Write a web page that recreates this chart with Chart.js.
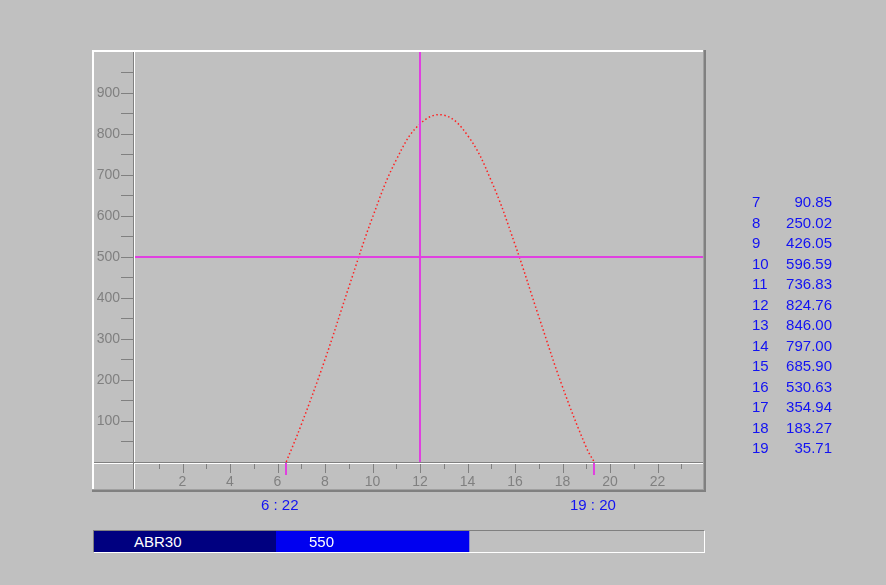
<!DOCTYPE html>
<html>
<head>
<meta charset="utf-8">
<script src="https://cdn.jsdelivr.net/npm/chart.js@4.4.1/dist/chart.umd.min.js"></script>
<style>
body { margin: 0; background: #c0c0c0; width: 886px; height: 585px; overflow: hidden; position: relative; font-family: "Liberation Sans", Arial, sans-serif; }
#main { position: absolute; left: 0; top: 0; }
.blue { position: absolute; color: #1212f2; font-size: 15px; white-space: nowrap; line-height: 20px; }
.row { position: absolute; left: 752px; width: 80px; height: 20px; }
.row .v { position: absolute; right: 0; }
#bar { position: absolute; left: 93px; top: 530px; width: 612px; height: 23px; box-sizing: border-box;
       border-top: 1px solid #808080; border-left: 1px solid #808080; border-bottom: 1px solid #fff; border-right: 1px solid #fff; }
#barLabel { position: absolute; left: 0; top: 0; width: 182px; height: 21px; background: #000080; }
#barChart { position: absolute; left: 182px; top: 0; }
.white { position: absolute; top: 0; color: #fff; font-size: 15px; line-height: 21px; }
</style>
</head>
<body>
<canvas id="main" width="886" height="585"></canvas>
<div id="table"></div>
<div id="rise" class="blue"></div>
<div id="set" class="blue"></div>
<div id="bar">
  <div id="barLabel"></div>
  <canvas id="barChart" width="428" height="21"></canvas>
  <div id="barName" class="white" style="left:40px"></div>
  <div id="barText" class="white" style="left:215px"></div>
</div>
<script>
// werte aus der tabelle rechts
var hours = [7, 8, 9, 10, 11, 12, 13, 14, 15, 16, 17, 18, 19];
var values = [90.85, 250.02, 426.05, 596.59, 736.83, 824.76, 846.00, 797.00, 685.90, 530.63, 354.94, 183.27, 35.71];
var sunrise = [6, 22];
var sunset = [19, 20];
var xLabels = [2, 4, 6, 8, 10, 12, 14, 16, 18, 20, 22];
var yLabels = [100, 200, 300, 400, 500, 600, 700, 800, 900];
var crossHour = 12;
var crossLevel = 500;
var barName = 'ABR30';
var barValue = 550;
var barMax = 1220;

function toHour(t) { return t[0] + t[1] / 60; }
function fmtTime(t) { return t[0] + ' : ' + (t[1] < 10 ? '0' : '') + t[1]; }

var curve = [{ x: toHour(sunrise), y: 0 }];
hours.forEach(function (h, i) { curve.push({ x: h, y: values[i] }); });
curve.push({ x: toHour(sunset), y: 0 });

// rahmen, achsenlinien, x-ticks
var framePlugin = {
    id: 'frame',
    afterDraw: function (chart) {
        var ctx = chart.ctx;
        var xs = chart.scales.x;
        ctx.save();
        // erhabener rahmen
        ctx.fillStyle = '#ffffff';
        ctx.fillRect(92, 50, 612, 2);
        ctx.fillRect(92, 50, 2, 440);
        ctx.fillStyle = '#a0a0a0';
        ctx.fillRect(703, 50, 1, 440);
        ctx.fillRect(92, 489, 612, 1);
        ctx.fillStyle = '#808080';
        ctx.fillRect(704, 50, 2, 442);
        ctx.fillRect(92, 490, 614, 2);
        // y-achse
        ctx.fillStyle = '#808080';
        ctx.fillRect(133, 52, 1, 437);
        ctx.fillStyle = '#ffffff';
        ctx.fillRect(134, 52, 1, 437);
        // x-achse
        ctx.fillStyle = '#808080';
        ctx.fillRect(94, 462, 609, 1);
        ctx.fillStyle = '#ffffff';
        ctx.fillRect(94, 463, 609, 1);
        ctx.fillStyle = '#808080';
        ctx.fillRect(133, 462, 1, 27);
        ctx.fillStyle = '#808080';
        for (var v = 1; v < 24; v++) {
            var px = Math.round(xs.getPixelForValue(v));
            ctx.fillRect(px, 464, 1, v % 2 === 0 ? 9 : 5);
        }
        // auf-/untergang
        ctx.fillStyle = '#e040e0';
        [toHour(sunrise), toHour(sunset)].forEach(function (h) {
            var px = Math.round(xs.getPixelForValue(h));
            ctx.fillRect(px - 1, 463, 2, 12);
        });
        ctx.restore();
    }
};

var ctxMain = document.getElementById('main').getContext('2d');
new Chart(ctxMain, {
    type: 'line',
    data: {
        datasets: [{
            data: curve,
            borderColor: '#ff2020',
            borderWidth: 1.5,
            borderDash: [1.5, 2.5],
            pointRadius: 0,
            tension: 0.4,
            order: 2
        }, {
            data: [{ x: crossHour, y: 0 }, { x: crossHour, y: 1000 }],
            borderColor: '#e040e0',
            borderWidth: 2,
            pointRadius: 0,
            order: 1
        }, {
            data: [{ x: 0, y: crossLevel }, { x: 24, y: crossLevel }],
            borderColor: '#e040e0',
            borderWidth: 2,
            pointRadius: 0,
            order: 1
        }]
    },
    options: {
        responsive: false,
        animation: false,
        layout: { padding: { left: 94, top: 52, right: 181, bottom: 95 } },
        plugins: { legend: { display: false }, tooltip: { enabled: false } },
        scales: {
            x: {
                type: 'linear',
                min: 0,
                max: 24,
                afterFit: function (scale) { scale.height = 28; },
                border: { display: false },
                grid: { display: false, drawTicks: false },
                ticks: {
                    stepSize: 1,
                    autoSkip: false,
                    maxRotation: 0,
                    padding: 12,
                    color: '#808080',
                    font: { family: 'Liberation Sans', size: 14 },
                    callback: function (value) { return xLabels.indexOf(value) >= 0 ? String(value) : ''; }
                }
            },
            y: {
                min: 0,
                max: 1000,
                afterFit: function (scale) { scale.width = 41; },
                border: { display: false },
                grid: {
                    drawOnChartArea: false,
                    drawTicks: true,
                    tickLength: 14,
                    tickColor: function (c) { return (c.tick && c.tick.value > 0 && c.tick.value < 1000) ? '#808080' : 'rgba(0,0,0,0)'; }
                },
                ticks: {
                    stepSize: 50,
                    padding: 1,
                    color: '#808080',
                    font: { family: 'Liberation Sans', size: 14 },
                    callback: function (value) { return yLabels.indexOf(value) >= 0 ? String(value) : ''; }
                }
            }
        }
    },
    plugins: [framePlugin]
});

// tabelle
var table = document.getElementById('table');
hours.forEach(function (h, i) {
    var row = document.createElement('div');
    row.className = 'row blue';
    row.style.top = (192 + i * 20.5) + 'px';
    row.innerHTML = '<span>' + h + '</span><span class="v">' + values[i].toFixed(2) + '</span>';
    table.appendChild(row);
});

var rise = document.getElementById('rise');
rise.textContent = fmtTime(sunrise);
rise.style.left = '261px';
rise.style.top = '495px';
var set = document.getElementById('set');
set.textContent = fmtTime(sunset);
set.style.left = '570px';
set.style.top = '495px';

// balken unten
document.getElementById('barName').textContent = barName;
document.getElementById('barText').textContent = barValue;
var ctxBar = document.getElementById('barChart').getContext('2d');
new Chart(ctxBar, {
    type: 'bar',
    data: {
        labels: [barName],
        datasets: [{
            data: [barValue],
            backgroundColor: '#0000f0',
            borderWidth: 0,
            barPercentage: 1,
            categoryPercentage: 1
        }]
    },
    options: {
        indexAxis: 'y',
        responsive: false,
        animation: false,
        layout: { padding: 0 },
        plugins: { legend: { display: false }, tooltip: { enabled: false } },
        scales: {
            x: { display: false, min: 0, max: barMax },
            y: { display: false }
        }
    }
});
</script>
</body>
</html>
